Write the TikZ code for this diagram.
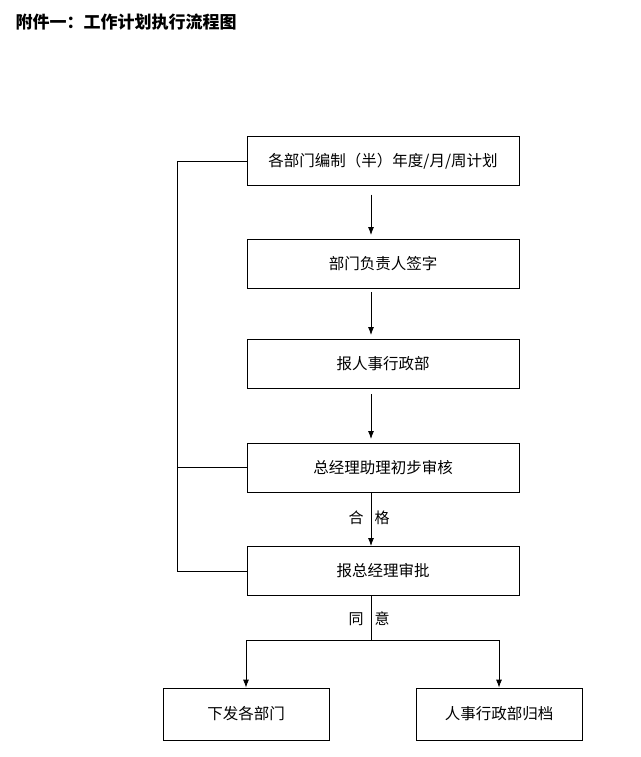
\documentclass[tikz,border=0pt]{standalone}
\usepackage{fontspec}
\newfontfamily\cjk{Noto Sans CJK SC}
\usetikzlibrary{arrows.meta}
\begin{document}
\begin{tikzpicture}[x=1pt,y=-1pt,
  box/.style={draw,thick,minimum width=272pt,minimum height=49pt,font=\cjk\fontsize{15.5}{17}\selectfont,inner sep=0pt},
  sbox/.style={box,minimum width=166pt,minimum height=52pt},
  arr/.style={thick,-{Latex[length=8pt,width=6pt]}},
  lbl/.style={font=\cjk\fontsize{15}{17}\selectfont}]
\useasboundingbox (0,0) rectangle (640,757);
\fill[white] (0,0) rectangle (640,757);
\node[anchor=west,font=\cjk\bfseries\fontsize{17}{19}\selectfont] (title) at (12,22) {附件一：工作计划执行流程图};
\node[box] (b1) at (383,161) {各部门编制（半）年度/月/周计划};
\node[box] (b2) at (383,263.5) {部门负责人签字};
\node[box] (b3) at (383,363.5) {报人事行政部};
\node[box] (b4) at (383,467.5) {总经理助理初步审核};
\node[box] (b5) at (383,571) {报总经理审批};
\node[sbox] (b6) at (246,714) {下发各部门};
\node[sbox] (b7) at (499,714) {人事行政部归档};
\draw[arr,shorten <=9pt,shorten >=4pt] (371,185.5) -- (371,239);
\draw[arr,shorten <=4pt,shorten >=4pt] (371,288) -- (371,339);
\draw[arr,shorten <=6pt,shorten >=4pt] (371,388) -- (371,443);
\draw[arr] (371,492) -- (371,546);
\node[lbl] (l1) at (356,518) {合};
\node[lbl] (l2) at (382,518) {格};
\coordinate (s) at (371,596);
\coordinate (j) at (371,640);
\coordinate (jl) at (246,640);
\coordinate (jr) at (499,640);
\draw[thick] (s) -- (j);
\draw[thick] (jl) -- (jr);
\draw[arr] (jl) -- (b6.north);
\draw[arr] (jr) -- (b7.north);
\node[lbl] (l3) at (356,619) {同};
\node[lbl] (l4) at (382,619) {意};
\coordinate (f1) at (177,161);
\coordinate (f4) at (177,467.5);
\coordinate (f5) at (177,571);
\draw[thick] (b1.west) -- (f1) -- (f5) -- (b5.west);
\draw[thick] (f4) -- (b4.west);
\end{tikzpicture}
\end{document}
